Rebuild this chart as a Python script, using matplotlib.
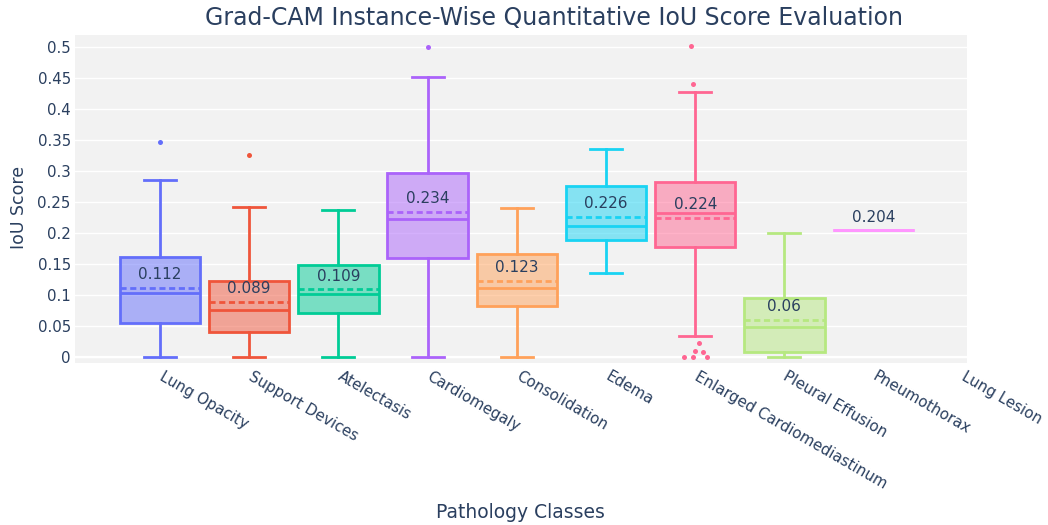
import matplotlib
matplotlib.use('Agg')
import matplotlib.pyplot as plt
import matplotlib.transforms as mtransforms
from matplotlib.colors import to_rgba

# Dados
categorias = ['Lung Opacity', 'Support Devices', 'Atelectasis', 'Cardiomegaly',
              'Consolidation', 'Edema', 'Enlarged Cardiomediastinum',
              'Pleural Effusion', 'Pneumothorax', 'Lung Lesion']
q1 = [0.055, 0.041, 0.071, 0.160, 0.082, 0.188, 0.178, 0.0075, 0.204, None]
medianas = [0.103, 0.076, 0.101, 0.222, 0.112, 0.212, 0.233, 0.048, 0.204, None]
q3 = [0.161, 0.123, 0.149, 0.296, 0.166, 0.276, 0.283, 0.095, 0.204, None]
bigode_inf = [0.0, 0.0, 0.0, 0.0, 0.0, 0.136, 0.034, 0.0, 0.204, None]
bigode_sup = [0.286, 0.242, 0.237, 0.451, 0.241, 0.335, 0.427, 0.200, 0.204, None]
medias = [0.112, 0.089, 0.109, 0.234, 0.123, 0.226, 0.224, 0.06, 0.204, None]
outliers = [[0.347], [0.325], [], [0.5], [], [],
            [0.502, 0.44, 0.022, 0.0097, 0.008, 0.0, 0.0, 0.0], [], [], []]
jitter = [[0.0], [0.0], [], [0.0], [], [],
          [-0.05, -0.02, 0.045, 0.0, 0.09, -0.13, -0.03, 0.13], [], [], []]
yticks = [0, 0.05, 0.1, 0.15, 0.2, 0.25, 0.3, 0.35, 0.4, 0.45, 0.5]

cores = ['#636EFA', '#EF553B', '#00CC96', '#AB63FA', '#FFA15A',
         '#19D3F3', '#FF6692', '#B6E880', '#FF97FF', '#FECB52']
texto = '#2a3f5f'

plt.rcParams['font.family'] = ['DejaVu Sans']

fig = plt.figure(figsize=(10.48, 5.25), dpi=100)
ax = fig.add_axes([0.0716, 0.3086, 0.8511, 0.6248])
ax.set_facecolor('#f2f2f2')
for s in ax.spines.values():
    s.set_visible(False)

ax.set_axisbelow(True)
ax.yaxis.grid(True, color='white', linewidth=1.0)
ax.axhline(0, color='white', linewidth=1.6, zorder=0.5)

lw = 2.0
for i, cor in enumerate(cores):
    if medias[i] is None:
        continue
    stats = [{'q1': q1[i], 'med': medianas[i], 'q3': q3[i],
              'whislo': bigode_inf[i], 'whishi': bigode_sup[i],
              'mean': medias[i], 'fliers': []}]
    ax.bxp(stats, positions=[i], widths=0.9, capwidths=0.36,
           patch_artist=True, showmeans=True, meanline=True,
           boxprops=dict(facecolor=to_rgba(cor, 0.5), edgecolor=cor, linewidth=lw),
           medianprops=dict(color=cor, linewidth=lw),
           meanprops=dict(color=cor, linewidth=lw, linestyle=(0, (2.2, 1.3))),
           whiskerprops=dict(color=cor, linewidth=lw),
           capprops=dict(color=cor, linewidth=lw),
           manage_ticks=False)
    if outliers[i]:
        xs = [i + j for j in jitter[i]]
        ax.plot(xs, outliers[i], 'o', color=cor, markersize=3.6, markeredgewidth=0)
    ax.annotate(f'{medias[i]:g}', (i, medias[i]), xytext=(0, 9.5),
                textcoords='offset points', ha='center', va='center',
                fontsize=11, color=texto)

ax.set_xlim(-0.953, 9.047)
ax.set_ylim(-0.0097, 0.5194)
ax.set_yticks(yticks)
ax.set_yticklabels([f'{v:g}' for v in yticks])
ax.set_xticks(range(len(categorias)))
ax.set_xticklabels(categorias, rotation=-30, ha='left', va='top',
                   rotation_mode='anchor')
ax.tick_params(axis='both', length=0, labelsize=10.8, labelcolor=texto)
ax.tick_params(axis='y', pad=3)
ax.tick_params(axis='x', pad=4)
desloca = mtransforms.ScaledTranslation(4 / 100, 0, fig.dpi_scale_trans)
for rot in ax.get_xticklabels():
    rot.set_transform(rot.get_transform() + desloca)

fig.text(0.529, 0.966, 'Grad-CAM Instance-Wise Quantitative IoU Score Evaluation',
         ha='center', va='center', fontsize=17, color=texto)
fig.text(19.5 / 1048, 1 - 207 / 525, 'IoU Score', rotation=90,
         ha='center', va='center', fontsize=12.5, color=texto)
fig.text(520 / 1048, 1 - 512 / 525, 'Pathology Classes',
         ha='center', va='center', fontsize=13.5, color=texto)

fig.savefig('out.png', dpi=100)
